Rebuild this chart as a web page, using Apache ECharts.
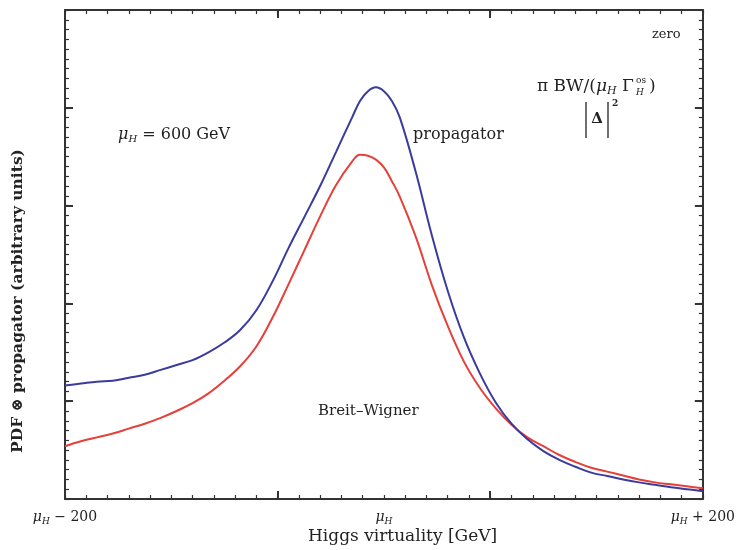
<!DOCTYPE html>
<html>
<head>
<meta charset="utf-8">
<script src="https://cdn.jsdelivr.net/npm/echarts@6/dist/echarts.min.js"></script>
<style>html,body{margin:0;padding:0;background:#fff;}#c{width:738px;height:550px;}</style>
</head>
<body>
<div id="c"></div>
<script>
// Higgs virtuality offset from mu_H (GeV)
const virtuality = [-200,-190,-180,-170,-160,-150,-140,-130,-120,-110,-100,-90,-80,-70,-60,-50,-40,-30,-20,-15,-10,-5,0,5,10,20,30,40,50,60,70,80,90,100,110,120,130,140,150,160,170,180,190,200];
// propagator |Delta|^2 (blue)
const propagator = [1.16,1.18,1.20,1.21,1.24,1.27,1.32,1.37,1.42,1.50,1.60,1.73,1.93,2.22,2.56,2.88,3.20,3.55,3.90,4.07,4.17,4.21,4.17,4.07,3.90,3.34,2.70,2.13,1.66,1.29,0.99,0.77,0.61,0.49,0.40,0.33,0.27,0.235,0.20,0.17,0.145,0.12,0.10,0.08];
// Breit-Wigner (red)
const breitWigner = [0.54,0.59,0.63,0.67,0.72,0.77,0.83,0.90,0.98,1.08,1.21,1.36,1.56,1.85,2.19,2.54,2.89,3.21,3.45,3.52,3.51,3.47,3.39,3.25,3.09,2.68,2.19,1.77,1.41,1.14,0.93,0.76,0.63,0.54,0.45,0.38,0.32,0.28,0.24,0.20,0.17,0.15,0.13,0.11];
// x tick labels
const xLabelValues = [-200, 0, 200];
const xLabelTexts = ['{i|μ}{s|H} − 200', '{i|μ}{s|H}', '{i|μ}{s|H} + 200'];
const xMajorTicks = [-200/3, 200/3];
const xMinorTicks = [];
for (let k = 0; k <= 30; k++) xMinorTicks.push(-200 + k * 40 / 3);

const serif = '"DejaVu Serif", "Liberation Serif", serif';
const axisColor = '#333';
const blueColor = '#3b3b9e';
const redColor = '#e5403a';

function richFor(size) {
  return {
    i: {fontFamily: serif, fontStyle: 'italic', fontSize: size, color: '#222'},
    s: {fontFamily: serif, fontStyle: 'italic', fontSize: Math.round(size * 0.62), color: '#222', padding: [8,0,0,0]}
  };
}

function baseX(pos, showLabel) {
  return {
    type: 'value', min: -200, max: 200, position: pos,
    axisLine: {show: true, onZero: false, lineStyle: {color: axisColor, width: 2}},
    axisTick: {show: true, inside: true, length: 4, customValues: xMinorTicks, lineStyle: {color: axisColor, width: 1.2}},
    axisLabel: showLabel ? {
      show: true, customValues: xLabelValues, margin: 10,
      fontFamily: serif, fontSize: 14, color: '#222',
      formatter: function (v) {
        const idx = xLabelValues.findIndex(function (t) { return Math.abs(t - v) < 1e-6; });
        return idx >= 0 ? xLabelTexts[idx] : '';
      },
      rich: richFor(14)
    } : {show: false},
    splitLine: {show: false}
  };
}
function majorX(pos) {
  return {
    type: 'value', min: -200, max: 200, position: pos,
    axisLine: {show: false, onZero: false},
    axisTick: {show: true, inside: true, length: 8, customValues: xMajorTicks, lineStyle: {color: axisColor, width: 2}},
    axisLabel: {show: false}, splitLine: {show: false}
  };
}
function baseY(pos) {
  return {
    type: 'value', min: 0, max: 5, interval: 0.1, position: pos,
    axisLine: {show: true, onZero: false, lineStyle: {color: axisColor, width: 2}},
    axisTick: {show: true, inside: true, length: 4, lineStyle: {color: axisColor, width: 1.2}},
    axisLabel: {show: false}, splitLine: {show: false}
  };
}
function majorY(pos) {
  return {
    type: 'value', min: 0, max: 5, interval: 1, position: pos,
    axisLine: {show: false, onZero: false},
    axisTick: {show: true, inside: true, length: 8, lineStyle: {color: axisColor, width: 2}},
    axisLabel: {show: false}, splitLine: {show: false}
  };
}

const chart = echarts.init(document.getElementById('c'), null, {renderer: 'canvas'});
chart.setOption({
  animation: false,
  backgroundColor: '#fff',
  grid: {left: 65, right: 35, top: 10, bottom: 51},
  xAxis: [baseX('bottom', true), majorX('bottom'), baseX('top', false), majorX('top')],
  yAxis: [baseY('left'), majorY('left'), baseY('right'), majorY('right')],
  series: [
    {type: 'line', name: 'propagator', xAxisIndex: 0, yAxisIndex: 0, showSymbol: false, smooth: 0.4,
     lineStyle: {color: blueColor, width: 2}, z: 3,
     data: virtuality.map(function (x, i) { return [x, propagator[i]]; })},
    {type: 'line', name: 'Breit–Wigner', xAxisIndex: 0, yAxisIndex: 0, showSymbol: false, smooth: 0.4,
     lineStyle: {color: redColor, width: 2}, z: 2,
     data: virtuality.map(function (x, i) { return [x, breitWigner[i]]; })}
  ],
  graphic: [
    {type: 'text', x: 308, y: 537, style: {text: 'Higgs virtuality [GeV]', font: '17px ' + serif, fill: '#222', verticalAlign: 'middle'}},
    {type: 'text', x: 18, y: 301, rotation: Math.PI / 2, style: {text: 'PDF ⊗ propagator (arbitrary units)', font: 'bold 15.5px ' + serif, fill: '#222', align: 'center', verticalAlign: 'middle'}},
    {type: 'text', x: 118, y: 135, style: {text: '{i|μ}{s|H} = 600 GeV', fontFamily: serif, fontSize: 16, fill: '#222', verticalAlign: 'middle', rich: richFor(16)}},
    {type: 'text', x: 413, y: 135, style: {text: 'propagator', fontFamily: serif, fontSize: 16, fill: '#222', verticalAlign: 'middle'}},
    {type: 'text', x: 318, y: 411, style: {text: 'Breit–Wigner', fontFamily: serif, fontSize: 15, fill: '#222', verticalAlign: 'middle'}},
    {type: 'text', x: 652, y: 35, style: {text: 'zero', fontFamily: serif, fontSize: 13, fill: '#222', verticalAlign: 'middle'}},
    {type: 'text', x: 537, y: 87, style: {text: 'π BW/({i|μ}{s|H} Γ', fontFamily: serif, fontSize: 17, fill: '#222', verticalAlign: 'middle', rich: richFor(17)}},
    {type: 'text', x: 636, y: 81, style: {text: 'os', fontFamily: serif, fontSize: 9, fill: '#222', verticalAlign: 'middle'}},
    {type: 'text', x: 636, y: 93, style: {text: 'H', fontFamily: serif, fontStyle: 'italic', fontSize: 9, fill: '#222', verticalAlign: 'middle'}},
    {type: 'text', x: 649, y: 87, style: {text: ')', fontFamily: serif, fontSize: 17, fill: '#222', verticalAlign: 'middle'}},
    {type: 'line', shape: {x1: 586, y1: 102, x2: 586, y2: 138}, style: {stroke: '#222', lineWidth: 1.3}},
    {type: 'line', shape: {x1: 608, y1: 102, x2: 608, y2: 138}, style: {stroke: '#222', lineWidth: 1.3}},
    {type: 'text', x: 597, y: 119, style: {text: 'Δ', fontFamily: serif, fontSize: 15, fontWeight: 'bold', fill: '#222', align: 'center', verticalAlign: 'middle'}},
    {type: 'text', x: 612, y: 104, style: {text: '2', fontFamily: serif, fontSize: 9, fontWeight: 'bold', fill: '#222', verticalAlign: 'middle'}}
  ]
});
</script>
</body>
</html>
